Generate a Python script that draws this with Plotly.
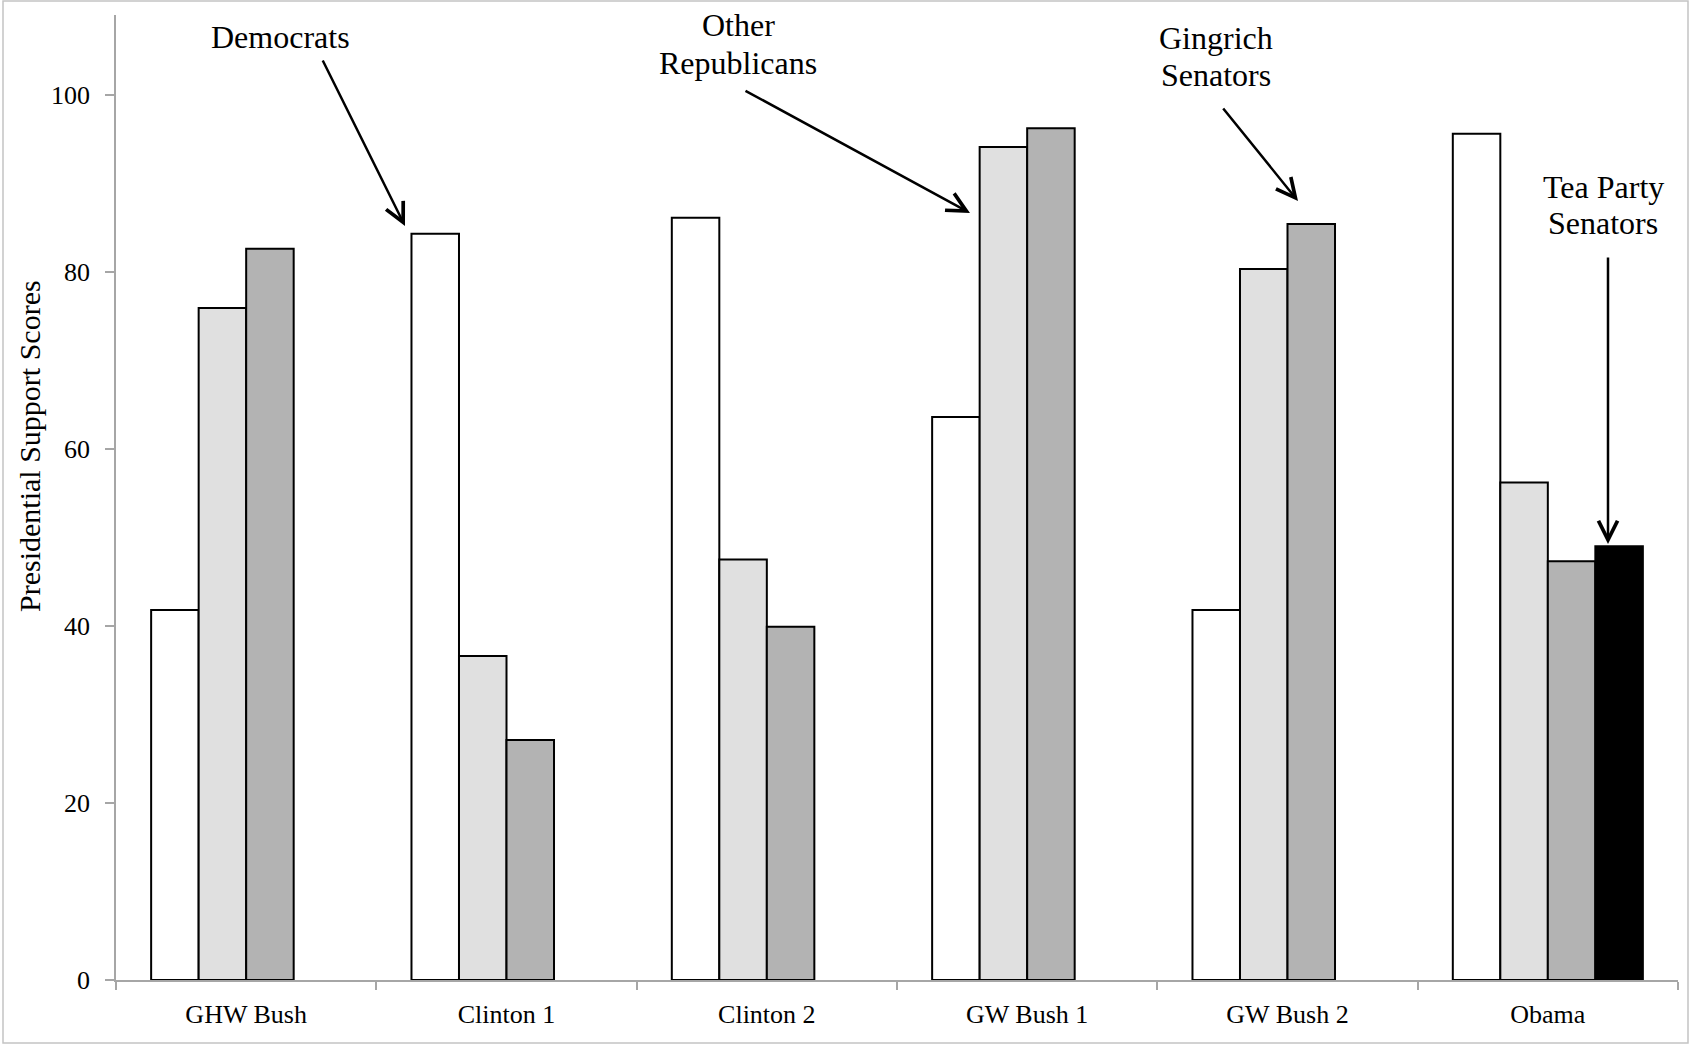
import plotly.graph_objects as go

categories = ["GHW Bush", "Clinton 1", "Clinton 2", "GW Bush 1", "GW Bush 2", "Obama"]
democrats = [41.8, 84.3, 86.1, 63.6, 41.8, 95.6]
other_republicans = [75.9, 36.6, 47.5, 94.1, 80.3, 56.2]
gingrich_senators = [82.6, 27.1, 39.9, 96.2, 85.4, 47.3]
tea_party_senators = [None, None, None, None, None, 49.0]
y_ticks = [0, 20, 40, 60, 80, 100]

series = [
    ("Democrats", democrats, "#ffffff"),
    ("Other Republicans", other_republicans, "#e0e0e0"),
    ("Gingrich Senators", gingrich_senators, "#b3b3b3"),
    ("Tea Party Senators", tea_party_senators, "#000000"),
]

FONT = "Liberation Serif, Times New Roman, serif"

fig = go.Figure()
for name, vals, color in series:
    fig.add_trace(go.Bar(
        x=categories, y=vals, name=name,
        marker=dict(color=color, line=dict(color="#000000", width=2)),
        showlegend=False,
    ))

W, H = 1690, 1044
L, R, T, B = 116, 12, 15, 64
pw, ph = W - L - R, H - T - B

def px(x):
    return (x - L) / pw

def py(y):
    return (H - B - y) / ph

fig.update_layout(
    width=W, height=H,
    margin=dict(l=L, r=R, t=T, b=B, autoexpand=False),
    paper_bgcolor="white", plot_bgcolor="white",
    barmode="group", bargap=0.27, bargroupgap=0,
    font=dict(family=FONT, color="#000000", size=26),
    xaxis=dict(
        automargin=False,
        showline=True, linecolor="#a6a6a6", linewidth=1.5,
        ticks="outside", tickson="boundaries", ticklen=8, tickcolor="#a6a6a6", tickwidth=1.5,
        tickfont=dict(size=26, family=FONT), showgrid=False, ticklabelstandoff=10,
    ),
    yaxis=dict(
        automargin=False,
        range=[0, 109], tickvals=y_ticks,
        showline=True, linecolor="#a6a6a6", linewidth=1.5,
        ticks="outside", ticklen=9, tickcolor="#a6a6a6", tickwidth=1.5,
        tickfont=dict(size=26, family=FONT), showgrid=False, zeroline=False,
        ticklabelstandoff=10,
    ),
)

# y-axis title
fig.add_annotation(text="Presidential Support Scores", x=px(30), y=py(446),
                   xref="paper", yref="paper", showarrow=False, textangle=-90,
                   xanchor="center", yanchor="middle",
                   font=dict(size=30, family=FONT, color="#000000"))

# outer frame
fig.add_shape(type="rect", xref="paper", yref="paper",
              x0=px(3), x1=px(1688), y0=py(1043), y1=py(1),
              line=dict(color="#c4c4c4", width=1.5), fillcolor="rgba(0,0,0,0)", layer="below")

labels = [
    ("Democrats", 280, 37),
    ("Other", 738, 25),
    ("Republicans", 738, 63),
    ("Gingrich", 1216, 38),
    ("Senators", 1216, 75),
    ("Tea Party", 1603, 187),
    ("Senators", 1603, 223),
]
for text, x, y in labels:
    fig.add_annotation(text=text, x=px(x), y=py(y), xref="paper", yref="paper",
                       showarrow=False, xanchor="center", yanchor="middle",
                       font=dict(size=32, family=FONT, color="#000000"))

arrows = [
    ((322, 59), (405, 226)),
    ((744, 90), (970, 213)),
    ((1222, 107), (1298, 201)),
    ((1608, 256), (1608, 544)),
]
for (tx, ty), (hx, hy) in arrows:
    fig.add_annotation(text="", x=px(hx), y=py(hy), xref="paper", yref="paper",
                       ax=tx - hx, ay=ty - hy, axref="pixel", ayref="pixel",
                       showarrow=True, arrowhead=5, arrowsize=1.5, arrowwidth=2.5,
                       arrowcolor="#000000", standoff=0)

fig.write_html(
    "out.html",
    config={"displayModeBar": False},
    post_script="document.body.style.margin='0px';document.documentElement.style.overflow='hidden';",
)
